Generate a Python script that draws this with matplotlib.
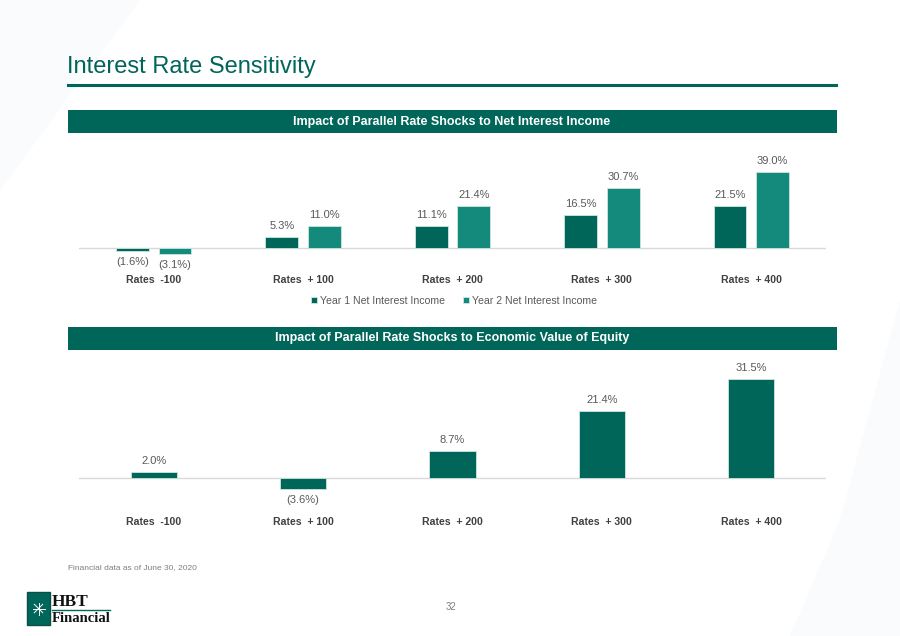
import numpy as np
import matplotlib
matplotlib.use("Agg")
import matplotlib.pyplot as plt
from matplotlib.patches import Rectangle, Polygon

plt.rcParams['font.family'] = ['Liberation Sans', 'DejaVu Sans']

# data
categories = ['Rates  -100', 'Rates  + 100', 'Rates  + 200', 'Rates  + 300', 'Rates  + 400']
nii_year1 = [-1.6, 5.3, 11.1, 16.5, 21.5]
nii_year2 = [-3.1, 11.0, 21.4, 30.7, 39.0]
eve = [2.0, -3.6, 8.7, 21.4, 31.5]

DARK = '#00665A'
LIGHT = '#138A7B'
LABEL = '#595959'
CAT = '#404040'

W, H = 900, 636
fig = plt.figure(figsize=(9, 6.36), dpi=100)
fig.patch.set_facecolor('white')


def box(x0, y0, x1, y1):
    # pixel box (top-left origin) -> figure fraction rect
    return [x0 / W, 1 - y1 / H, (x1 - x0) / W, (y1 - y0) / H]


def fx(x):
    return x / W


def fy(y):
    return 1 - y / H


# faint background shapes
fig.patches.append(Polygon([(0, fy(0)), (fx(140), fy(0)), (0, fy(190))],
                           closed=True, transform=fig.transFigure,
                           facecolor='#F9FBFC', edgecolor='none', zorder=0))
fig.patches.append(Polygon([(1, fy(300)), (1, 0), (fx(790), 0), (fx(840), fy(520))],
                           closed=True, transform=fig.transFigure,
                           facecolor='#F9FBFC', edgecolor='none', zorder=0))

# title + underline
fig.text(fx(67), fy(67), 'Interest Rate Sensitivity', fontsize=17, color=DARK,
         ha='left', va='center')
fig.add_artist(plt.Line2D([fx(68), fx(836)], [fy(85), fy(85)], color=DARK, lw=2.2,
                          transform=fig.transFigure))

# header bands
for y0, text in [(110, 'Impact of Parallel Rate Shocks to Net Interest Income'),
                 (327, 'Impact of Parallel Rate Shocks to Economic Value of Equity')]:
    fig.patches.append(Rectangle((fx(68), fy(y0 + 23)), fx(837) - fx(68), 23 / H,
                                 transform=fig.transFigure, facecolor=DARK,
                                 edgecolor='none'))
    fig.text(fx(452), fy(y0 + 11.5), text, color='white', fontsize=9,
             fontweight='bold', ha='center', va='center')


def pct(v):
    return f'{v:.1f}%' if v >= 0 else f'({abs(v):.1f}%)'


def label_bars(ax, bars, vals):
    for b, v in zip(bars, vals):
        xc = b.get_x() + b.get_width() / 2
        off = 8 if v >= 0 else -8
        ax.annotate(pct(v), (xc, v), xytext=(0, off), textcoords='offset points',
                    ha='center', va='center', fontsize=8, color=LABEL)


def style(ax, pad):
    for s in ax.spines.values():
        s.set_visible(False)
    ax.axhline(0, color='#D9D9D9', lw=1, zorder=1)
    ax.set_yticks([])
    ax.set_xlim(-0.5, len(categories) - 0.5)
    ax.set_xticks(np.arange(len(categories)))
    ax.set_xticklabels(categories, fontsize=7.6, fontweight='bold', color=CAT)
    ax.tick_params(axis='x', length=0, pad=pad)
    ax.patch.set_alpha(0)


x = np.arange(len(categories))

# chart 1: net interest income
ax1 = fig.add_axes(box(79, 150, 826, 262))
b1 = ax1.bar(x - 0.143, nii_year1, width=0.22, color=DARK, edgecolor='#CFE6E1',
             linewidth=0.6, label='Year 1 Net Interest Income', zorder=2)
b2 = ax1.bar(x + 0.143, nii_year2, width=0.22, color=LIGHT, edgecolor='#CFE6E1',
             linewidth=0.6, label='Year 2 Net Interest Income', zorder=2)
ax1.set_ylim(-7.47, 50.26)
style(ax1, 9.5)
label_bars(ax1, b1, nii_year1)
label_bars(ax1, b2, nii_year2)
fig.legend(handles=[b1, b2], loc='center', bbox_to_anchor=(fx(454), fy(301)), ncol=2,
           frameon=False, fontsize=7.6, handlelength=0.55, handleheight=0.55,
           handletextpad=0.3, columnspacing=1.7, labelcolor=LABEL)

# chart 2: economic value of equity
ax2 = fig.add_axes(box(79, 360, 826, 495))
b3 = ax2.bar(x, eve, width=0.31, color=DARK, edgecolor='#CFE6E1', linewidth=0.6, zorder=2)
ax2.set_ylim(-5.42, 37.64)
style(ax2, 16)
label_bars(ax2, b3, eve)

# footnote + page number
fig.text(fx(68), fy(568), 'Financial data as of June 30, 2020', fontsize=6,
         color='#7F7F7F', ha='left', va='center')
fig.text(fx(451), fy(607), '32', fontsize=7, color='#7F7F7F', ha='center', va='center')

# logo
fig.patches.append(Rectangle((fx(27), fy(625)), fx(50) - fx(27), 33 / H,
                             transform=fig.transFigure, facecolor=DARK,
                             edgecolor='#0B4F46', lw=1))
cx, cy = 38.5, 608.5
for ang in np.arange(0, 180, 45):
    r = np.deg2rad(ang)
    dx, dy = 6 * np.cos(r), 6 * np.sin(r)
    fig.add_artist(plt.Line2D([fx(cx - dx), fx(cx + dx)], [fy(cy - dy), fy(cy + dy)],
                              color='white', lw=0.7, transform=fig.transFigure))
fig.text(fx(52), fy(602), 'HBT', family=['Liberation Serif', 'DejaVu Serif'],
         fontsize=12.5, fontweight='bold', color='#111111', ha='left', va='center')
fig.add_artist(plt.Line2D([fx(52), fx(110)], [fy(610), fy(610)], color=DARK, lw=1,
                          transform=fig.transFigure))
fig.text(fx(52), fy(618), 'Financial', family=['Liberation Serif', 'DejaVu Serif'],
         fontsize=10.5, fontweight='bold', color='#111111', ha='left', va='center')

fig.savefig('out.png', dpi=100)
